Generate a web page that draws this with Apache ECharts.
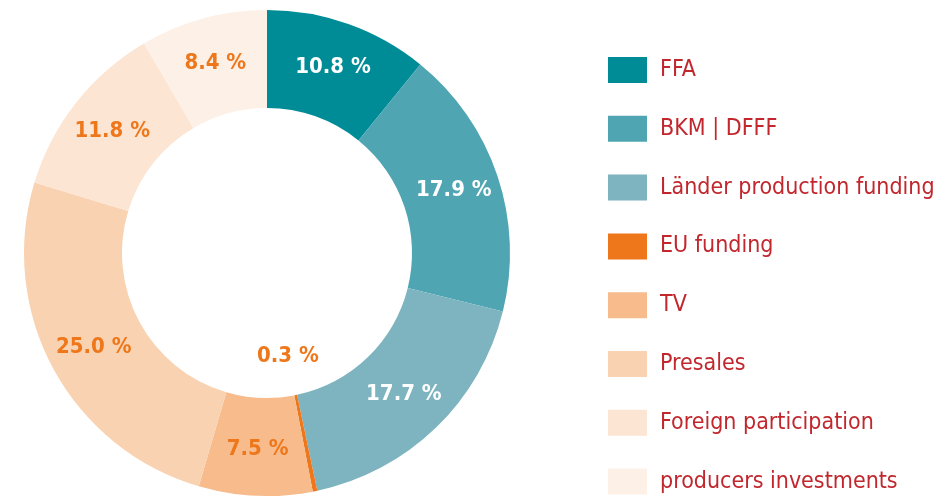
<!DOCTYPE html>
<html><head><meta charset="utf-8">
<script src="https://cdn.jsdelivr.net/npm/echarts@6/dist/echarts.min.js"></script>
<style>html,body{margin:0;padding:0;background:#fff}#c{width:941px;height:498px}</style>
</head><body><div id="c"></div>
<script>
const categories = ['FFA','BKM | DFFF','Länder production funding','EU funding','TV','Presales','Foreign participation','producers investments'];
const values = [10.8, 17.9, 17.7, 0.3, 7.5, 25.0, 11.8, 8.4];
const colors = ['#008C97','#4FA5B2','#7DB4BF','#EE771B','#F7BB8C','#F9D2B1','#FDE5D3','#FDF0E7'];
const labelColors = ['#fff','#fff','#fff','#EE771B','#EE771B','#EE771B','#EE771B','#EE771B'];
const FONT = '"Liberation Sans Narrow","DejaVu Sans Condensed",sans-serif';
const chart = echarts.init(document.getElementById('c'));
const data = categories.map((n,i)=>{
  const d = {name:n, value:values[i], itemStyle:{color:colors[i]}, label:{color:labelColors[i]}};
  if (i===3) d.label.offset = [-18,-90];
  return d;
});
chart.setOption({
  animation:false,
  legend:{
    orient:'vertical', left:608, top:57, height:441, padding:0, itemWidth:39, itemHeight:26, itemGap:32.8,
    icon:'rect',
    textStyle:{color:'#C1272D', fontSize:23, fontFamily:FONT, padding:[2,0,0,8]},
    data:categories
  },
  series:[{
    type:'pie', center:[267,253], radius:[145,243], startAngle:90, clockwise:true,
    avoidLabelOverlap:false,
    itemStyle:{borderWidth:0},
    label:{show:true, position:'inside', formatter:p=>p.value.toFixed(1)+' %', fontSize:22, fontWeight:'bold', fontFamily:FONT},
    labelLine:{show:false},
    data:data
  }]
});
</script></body></html>
